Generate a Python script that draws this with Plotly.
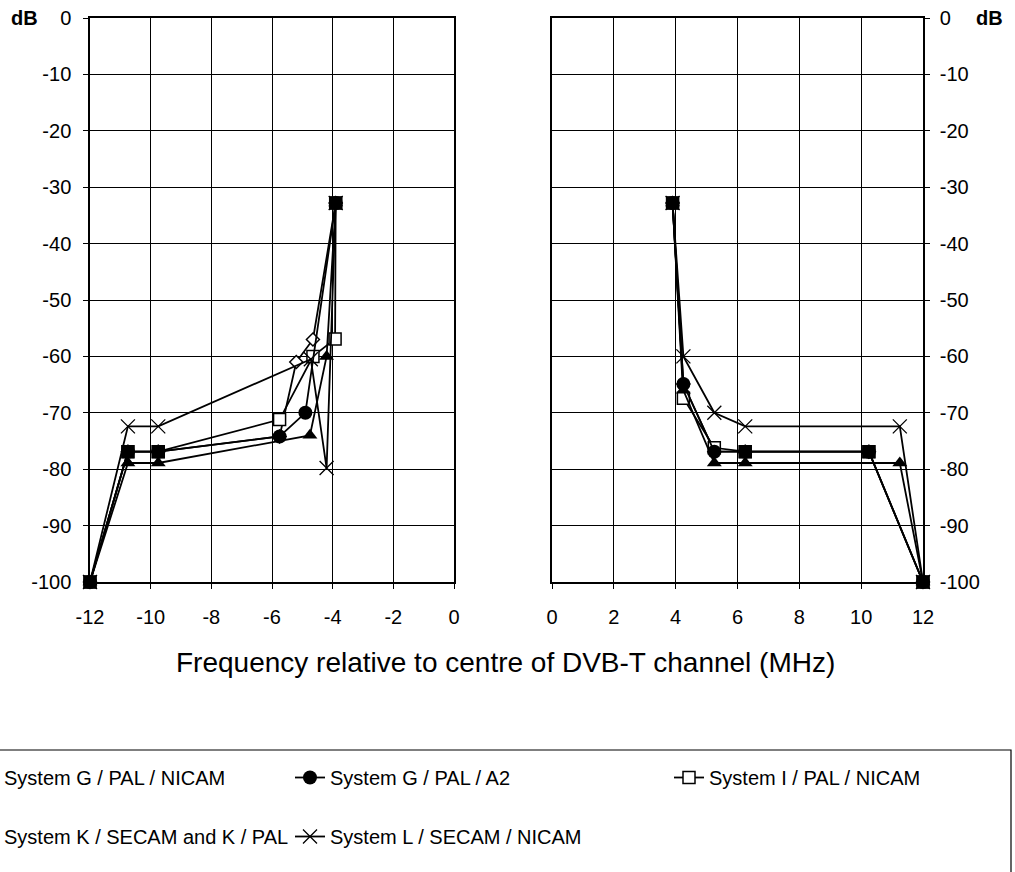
import plotly.graph_objects as go

# ---------------- data ----------------
series_names = ["System G / PAL / NICAM", "System G / PAL / A2", "System I / PAL / NICAM",
                "System K / SECAM and K / PAL", "System L / SECAM / NICAM"]

gpn_lx = [-12, -10.75, -9.75, -5.75, -5.2, -4.65, -3.9]
gpn_ly = [-100, -76.9, -76.9, -74.2, -61, -57, -32.8]
gpn_rx = [3.9, 4.25, 5.25, 6.25, 10.25, 12]
gpn_ry = [-32.8, -64.9, -76.9, -76.9, -76.9, -100]

gpa_lx = [-12, -10.75, -9.75, -5.75, -4.9, -3.9]
gpa_ly = [-100, -76.9, -76.9, -74.2, -70, -32.8]
gpa_rx = [3.9, 4.25, 5.25, 6.25, 10.25, 12]
gpa_ry = [-32.8, -64.9, -76.9, -76.9, -76.9, -100]

ipn_lx = [-12, -10.75, -9.75, -5.75, -4.65, -3.92, -3.9]
ipn_ly = [-100, -76.9, -76.9, -71.2, -60, -56.9, -32.8]
ipn_rx = [3.9, 4.25, 5.25, 6.25, 10.25, 12]
ipn_ry = [-32.8, -67.4, -76.2, -76.9, -76.9, -100]

ksk_lx = [-12, -10.75, -9.75, -4.75, -4.2, -3.9]
ksk_ly = [-100, -78.9, -78.9, -74, -60, -32.8]
ksk_rx = [3.9, 4.25, 5.25, 6.25, 11.25, 12]
ksk_ry = [-32.8, -66, -78.9, -78.9, -78.9, -100]

lsn_lx = [-12, -10.75, -9.75, -4.72, -4.2, -3.9]
lsn_ly = [-100, -72.4, -72.4, -60.5, -79.8, -32.8]
lsn_rx = [3.9, 4.25, 5.25, 6.25, 11.25, 12]
lsn_ry = [-32.8, -60, -70, -72.4, -72.4, -100]

common_lx = [-12, -10.75, -9.75, -3.9]
common_ly = [-100, -76.9, -76.9, -32.8]
common_rx = [3.9, 6.25, 10.25, 12]
common_ry = [-32.8, -76.9, -76.9, -100]

left_ticks = [-12, -10, -8, -6, -4, -2, 0]
right_ticks = [0, 2, 4, 6, 8, 10, 12]
y_ticks = [0, -10, -20, -30, -40, -50, -60, -70, -80, -90, -100]

FONT = "Liberation Sans, Arial, sans-serif"

# ---------------- styles ----------------
st_diamond = dict(symbol="diamond", size=10, color="white", line=dict(color="black", width=1.5))
st_circle = dict(symbol="circle", size=14, color="black", line=dict(color="black", width=0))
st_square = dict(symbol="square", size=12, color="white", line=dict(color="black", width=1.5))
st_tri = dict(symbol="triangle-up", size=13, color="black", line=dict(color="black", width=0))
st_x = dict(symbol="x-thin", size=14, color="black", line=dict(color="black", width=1.3))

# drawing order: later traces on top
order = [
    (series_names[0], gpn_lx, gpn_ly, gpn_rx, gpn_ry, st_diamond, "legend"),
    (series_names[2], ipn_lx, ipn_ly, ipn_rx, ipn_ry, st_square, "legend3"),
    (series_names[1], gpa_lx, gpa_ly, gpa_rx, gpa_ry, st_circle, "legend2"),
    (series_names[3], ksk_lx, ksk_ly, ksk_rx, ksk_ry, st_tri, "legend"),
    (series_names[4], lsn_lx, lsn_ly, lsn_rx, lsn_ry, st_x, "legend2"),
]

fig = go.Figure()
for name, lx, ly, rx, ry, st, leg in order:
    fig.add_trace(go.Scatter(x=lx, y=ly, name=name, mode="lines+markers",
                             line=dict(color="black", width=1.8), marker=st,
                             xaxis="x", yaxis="y", legend=leg, cliponaxis=False,
                             legendgroup=name, showlegend=True))
    fig.add_trace(go.Scatter(x=rx, y=ry, name=name, mode="lines+markers",
                             line=dict(color="black", width=1.8), marker=st,
                             xaxis="x2", yaxis="y2", legend=leg, cliponaxis=False,
                             legendgroup=name, showlegend=False))

sq = dict(symbol="square", size=13, color="black", line=dict(color="black", width=0))
fig.add_trace(go.Scatter(x=common_lx, y=common_ly, mode="markers", marker=sq, cliponaxis=False,
                         xaxis="x", yaxis="y", showlegend=False, hoverinfo="skip"))
fig.add_trace(go.Scatter(x=common_rx, y=common_ry, mode="markers", marker=sq, cliponaxis=False,
                         xaxis="x2", yaxis="y2", showlegend=False, hoverinfo="skip"))

W, H = 1015, 872
ml, mr, mt, mb = 90, 92, 18, 290
pw = W - ml - mr
ph = H - mt - mb

axis_common = dict(showgrid=True, gridcolor="black", gridwidth=1, showline=True,
                   linecolor="black", linewidth=1.5, mirror=True, ticks="outside",
                   ticklen=5, tickcolor="black", zeroline=False,
                   tickfont=dict(family=FONT, size=20, color="black"))

leg_font = dict(family=FONT, size=20, color="black")
leg_top = 1 - 758 / H

fig.update_layout(
    width=W, height=H,
    margin=dict(l=ml, r=mr, t=mt, b=mb, autoexpand=False),
    plot_bgcolor="white", paper_bgcolor="white",
    font=dict(family=FONT, size=20, color="black"),
    xaxis=dict(domain=[0, (454 - ml) / pw], range=[-12, 0], tickvals=left_ticks,
               ticktext=[str(v) for v in left_ticks], anchor="y",
               ticklabelstandoff=11, **axis_common),
    yaxis=dict(domain=[0, 1], range=[-100, 0], tickvals=y_ticks,
               ticktext=[str(v) for v in y_ticks], anchor="x", side="left",
               ticklabelstandoff=8, **axis_common),
    xaxis2=dict(domain=[(552 - ml) / pw, 1], range=[0, 12], tickvals=right_ticks,
                ticktext=[str(v) for v in right_ticks], anchor="y2",
                ticklabelstandoff=11, **axis_common),
    yaxis2=dict(domain=[0, 1], range=[-100, 0], tickvals=y_ticks,
                ticktext=[str(v) for v in y_ticks], anchor="x2", side="right",
                ticklabelstandoff=6, **axis_common),
    showlegend=True,
    legend=dict(xref="paper", yref="container", x=(-36 - ml) / pw, y=leg_top,
                xanchor="left", yanchor="top", orientation="v", tracegroupgap=30,
                bgcolor="rgba(0,0,0,0)", font=leg_font),
    legend2=dict(xref="container", yref="container", x=290 / W, y=leg_top,
                 xanchor="left", yanchor="top", orientation="v", tracegroupgap=30,
                 bgcolor="rgba(0,0,0,0)", font=leg_font),
    legend3=dict(xref="container", yref="container", x=669 / W, y=leg_top,
                 xanchor="left", yanchor="top", orientation="v", tracegroupgap=30,
                 bgcolor="rgba(0,0,0,0)", font=leg_font),
)

# legend frame
fig.add_shape(type="rect", xref="paper", yref="paper",
              x0=-0.5, x1=(1011 - ml) / pw, y0=(ph - (H + 40 - mt)) / ph, y1=(ph - (750 - mt)) / ph,
              line=dict(color="black", width=1.2), fillcolor="rgba(0,0,0,0)", layer="above")

# titles
fig.add_annotation(text="Frequency relative to centre of DVB-T channel (MHz)",
                   xref="paper", yref="paper", x=(505 - ml) / pw, y=(ph - (662 - mt)) / ph,
                   xanchor="center", yanchor="middle", showarrow=False,
                   font=dict(family=FONT, size=28, color="black"))
fig.add_annotation(text="<b>dB</b>", xref="paper", yref="paper",
                   x=(9 - ml) / pw, y=(ph - (18 - mt)) / ph, xanchor="left", yanchor="middle",
                   showarrow=False, font=dict(family=FONT, size=20, color="black"))
fig.add_annotation(text="<b>dB</b>", xref="paper", yref="paper",
                   x=(1005 - ml) / pw, y=(ph - (18 - mt)) / ph, xanchor="right", yanchor="middle",
                   showarrow=False, font=dict(family=FONT, size=20, color="black"))

fig.write_html("out.html", config={"displayModeBar": False},
               post_script="document.body.style.margin='0px';document.body.style.overflow='hidden';")
